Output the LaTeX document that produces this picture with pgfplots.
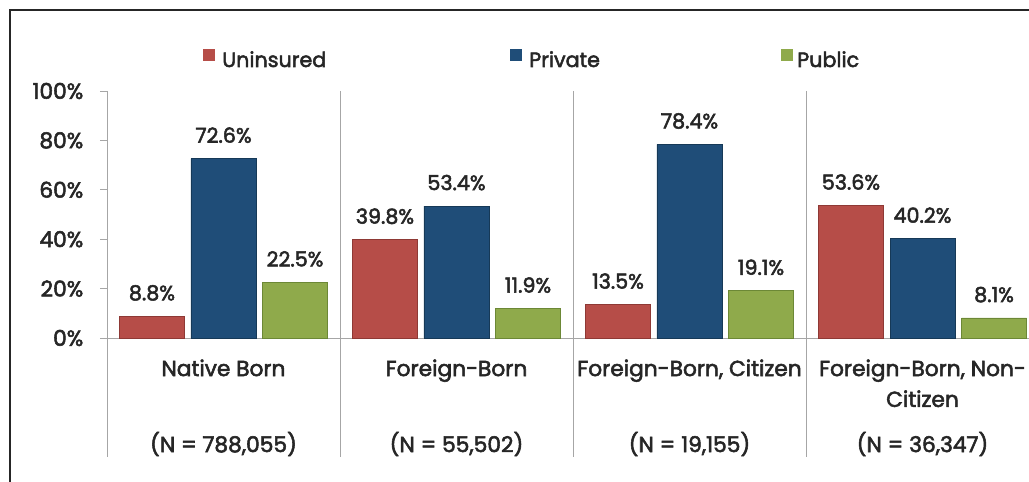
\documentclass[border=0pt]{standalone}
\usepackage{pgfplots}
\pgfplotsset{compat=1.18}
\usepackage{fontspec}
\setmainfont{Poppins}
\newfontfamily\medfont{Poppins}[FakeBold=2.5]
\definecolor{cred}{HTML}{B64D48}
\definecolor{credd}{HTML}{8E3935}
\definecolor{cblue}{HTML}{1F4D78}
\definecolor{cblued}{HTML}{163957}
\definecolor{cgreen}{HTML}{8FAA4B}
\definecolor{cgreend}{HTML}{6C8836}
\definecolor{ctext}{HTML}{262626}
\definecolor{cgrid}{HTML}{A6A6A6}
\newcommand{\lblfont}{\fontsize{15.5}{18}\medfont}
\newcommand{\catfont}{\fontsize{16.3}{19}\medfont}
\begin{document}
\begin{tikzpicture}
\clip (0,0) rectangle (771.75pt,361.5pt);
\draw[line width=2.2pt, color=ctext] (7.5pt,-5pt) -- (7.5pt,354pt) -- (780pt,354pt);
\begin{axis}[
  at={(80.25pt,108pt)}, anchor=south west,
  scale only axis, width=699pt, height=185.25pt,
  xmin=-0.5, xmax=3.5, ymin=0, ymax=100,
  axis x line*=bottom, axis y line*=left,
  axis line style={cgrid, line width=0.6pt},
  xtick=\empty,
  ytick={0,20,...,100},
  yticklabel={\pgfmathprintnumber{\tick}\%},
  /pgf/number format/assume math mode=true,
  tick align=outside, major tick length=5.25pt,
  tick style={cgrid, line width=0.6pt},
  y tick label style={font=\catfont, text=ctext, xshift=-9pt},
  ybar, bar width=0.279,
  clip=false,
  nodes near coords={\pgfmathprintnumber[fixed,precision=1,fixed zerofill]{\pgfplotspointmeta}\%},
  every node near coord/.append style={anchor=base, yshift=12pt, font=\lblfont, text=ctext},
]
\draw[cgrid, line width=0.6pt] (axis cs:-0.5,0) -- (axis cs:-0.5,-48.2);
\draw[cgrid, line width=0.6pt] (axis cs:0.5,100) -- (axis cs:0.5,-48.2);
\draw[cgrid, line width=0.6pt] (axis cs:1.5,100) -- (axis cs:1.5,-48.2);
\draw[cgrid, line width=0.6pt] (axis cs:2.5,100) -- (axis cs:2.5,-48.2);
\addplot[bar shift=-0.307, fill=cred, draw=credd, line width=0.5pt] coordinates {(0,8.8) (1,39.8) (2,13.5) (3,53.6)};
\addplot[bar shift=0, fill=cblue, draw=cblued, line width=0.5pt] coordinates {(0,72.6) (1,53.4) (2,78.4) (3,40.2)};
\addplot[bar shift=0.307, fill=cgreen, draw=cgreend, line width=0.5pt] coordinates {(0,22.5) (1,11.9) (2,19.1) (3,8.1)};
\begin{scope}[every node/.style={font=\catfont, text=ctext, anchor=base}]
\node at (axis cs:0,-15.4) {Native Born};
\node at (axis cs:1,-15.4) {Foreign-Born};
\node at (axis cs:2,-15.4) {Foreign-Born, Citizen};
\node at (axis cs:3,-15.4) {Foreign-Born, Non-};
\node at (axis cs:3,-27.9) {Citizen};
\node at (axis cs:0,-46.2) {(N = 788,055)};
\node at (axis cs:1,-46.2) {(N = 55,502)};
\node at (axis cs:2,-46.2) {(N = 19,155)};
\node at (axis cs:3,-46.2) {(N = 36,347)};
\end{scope}
\end{axis}
% legend
\begin{scope}[every node/.style={font=\lblfont, text=ctext, anchor=base west, inner sep=0pt}]
\fill[cred] (152.25pt,315.75pt) rectangle (161.25pt,324.75pt);
\node at (166.5pt,311.25pt) {Uninsured};
\fill[cblue] (382.5pt,315.75pt) rectangle (391.5pt,324.75pt);
\node at (396.75pt,311.25pt) {Private};
\fill[cgreen] (585.75pt,315.75pt) rectangle (594.75pt,324.75pt);
\node at (597.75pt,311.25pt) {Public};
\end{scope}
\end{tikzpicture}
\end{document}
